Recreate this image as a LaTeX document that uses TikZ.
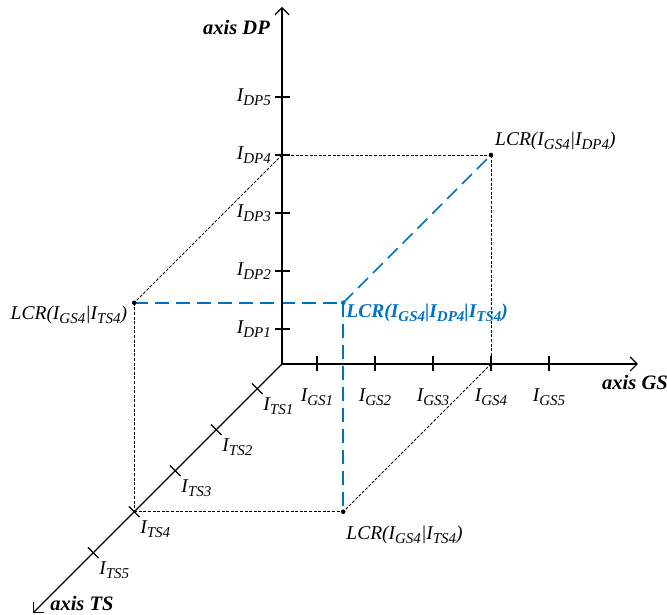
\documentclass[tikz,border=0pt]{standalone}
\usepackage{fontspec}
\setmainfont{Liberation Serif}
\usetikzlibrary{arrows.meta}
\definecolor{lcrblue}{RGB}{0,112,192}
% italic I with a lowered, smaller italic index
\newcommand\Isub[1]{\textit{I}\raisebox{-0.18em}{\fontsize{15}{15}\selectfont\textit{#1}}}
\begin{document}
\begin{tikzpicture}[x=1pt,y=1pt,z={(-0.7071pt,-0.7071pt)},
  axisline/.style={line width=1.2pt,-{Straight Barb[length=7pt,width=14pt]}},
  tickmark/.style={line width=1.2pt},
  guide/.style={line width=0.8pt,dash pattern=on 3pt off 1.6pt},
  blueguide/.style={lcrblue,line width=1.6pt,dash pattern=on 14pt off 7pt},
  lbl/.style={inner sep=0pt,font=\fontsize{19.5}{22}\selectfont\itshape},
  axlbl/.style={inner sep=0pt,font=\fontsize{20.5}{22}\selectfont\bfseries\itshape},
  bluelbl/.style={inner sep=0pt,text=lcrblue,font=\fontsize{19.5}{22}\selectfont\bfseries\itshape},
  dot/.style={circle,fill,inner sep=0pt,minimum size=4.6pt}]
\useasboundingbox (0,0) rectangle (667,615);
\begin{scope}[shift={(282,251)}]
  % origin, axis ends and tick positions (GS = x, DP = y, TS = z)
  \coordinate (o) at (0,0,0);
  \coordinate (gsend) at (356,0,0);
  \coordinate (dpend) at (0,357,0);
  \coordinate (tsend) at (0,0,352);
  \foreach \k/\t in {1/35,2/93,3/151,4/209,5/267}{
    \coordinate (gs\k) at (\t,0,0);
    \coordinate (dp\k) at (0,\t,0);
    \coordinate (ts\k) at (0,0,\t);
  }
  % LCR points
  \coordinate (pgd) at (209,209,0);
  \coordinate (pgt) at (209,0,209);
  \coordinate (pdt) at (0,209,209);
  \coordinate (pall) at (209,209,209);

  % projection guides
  \draw[guide] (dp4) -- (pgd);
  \draw[guide] (pgd) -- (gs4);
  \draw[guide] (dp4) -- (pdt);
  \draw[guide] (pdt) -- (ts4);
  \draw[guide] (ts4) -- (pgt);
  \draw[guide] (gs4) -- (pgt);
  \draw[blueguide] (pdt) -- (pall);
  \draw[blueguide] (pall) -- (pgd);
  \draw[blueguide] (pall) -- (pgt);

  % axes
  \draw[axisline] (o) -- (gsend);
  \draw[axisline] (o) -- (dpend);
  \draw[axisline] (o) -- (tsend);
  \foreach \k in {1,...,5}{
    \draw[tickmark,shift={(gs\k)}] (0,-7.5) -- (0,7.5);
    \draw[tickmark,shift={(dp\k)}] (-7.5,0) -- (7.5,0);
    \draw[tickmark,shift={(ts\k)}] (-5.3,5.3) -- (5.3,-5.3);
    \node[lbl,anchor=base] (lgs\k) at ([yshift=-38pt]gs\k) {\Isub{GS\k}};
    \node[lbl,anchor=base east] (ldp\k) at ([xshift=-11pt,yshift=-5pt]dp\k) {\Isub{DP\k}};
    \node[lbl,anchor=base west] (lts\k) at ([xshift=6pt,yshift=-22pt]ts\k) {\Isub{TS\k}};
  }
  \node[axlbl,anchor=base east] (adp) at ([xshift=-12pt,yshift=-28pt]dpend) {axis DP};
  \node[axlbl,anchor=base west] (ags) at ([xshift=-36pt,yshift=-26pt]gsend) {axis GS};
  \node[axlbl,anchor=base west] (ats) at ([xshift=17pt,yshift=2pt]tsend) {axis TS};

  % points and their labels
  \node[dot] (dgd) at (pgd) {};
  \node[dot] (dgt) at (pgt) {};
  \node[dot] (ddt) at (pdt) {};
  \node[dot,lcrblue] (dall) at (pall) {};
  \node[lbl,anchor=base west] (lgd) at ([xshift=4pt,yshift=9pt]pgd) {LCR(\Isub{GS4}|\Isub{DP4})};
  \node[lbl,anchor=base west] (lgt) at ([xshift=3pt,yshift=-28pt]pgt) {LCR(\Isub{GS4}|\Isub{TS4})};
  \node[lbl,anchor=base east] (ldt) at ([xshift=-7pt,yshift=-17pt]pdt) {LCR(\Isub{GS4}|\Isub{TS4})};
  \node[bluelbl,anchor=base west] (lall) at ([xshift=3pt,yshift=-15pt]pall) {LCR(\Isub{GS4}|\Isub{DP4}|\Isub{TS4})};
\end{scope}
\end{tikzpicture}
\end{document}
